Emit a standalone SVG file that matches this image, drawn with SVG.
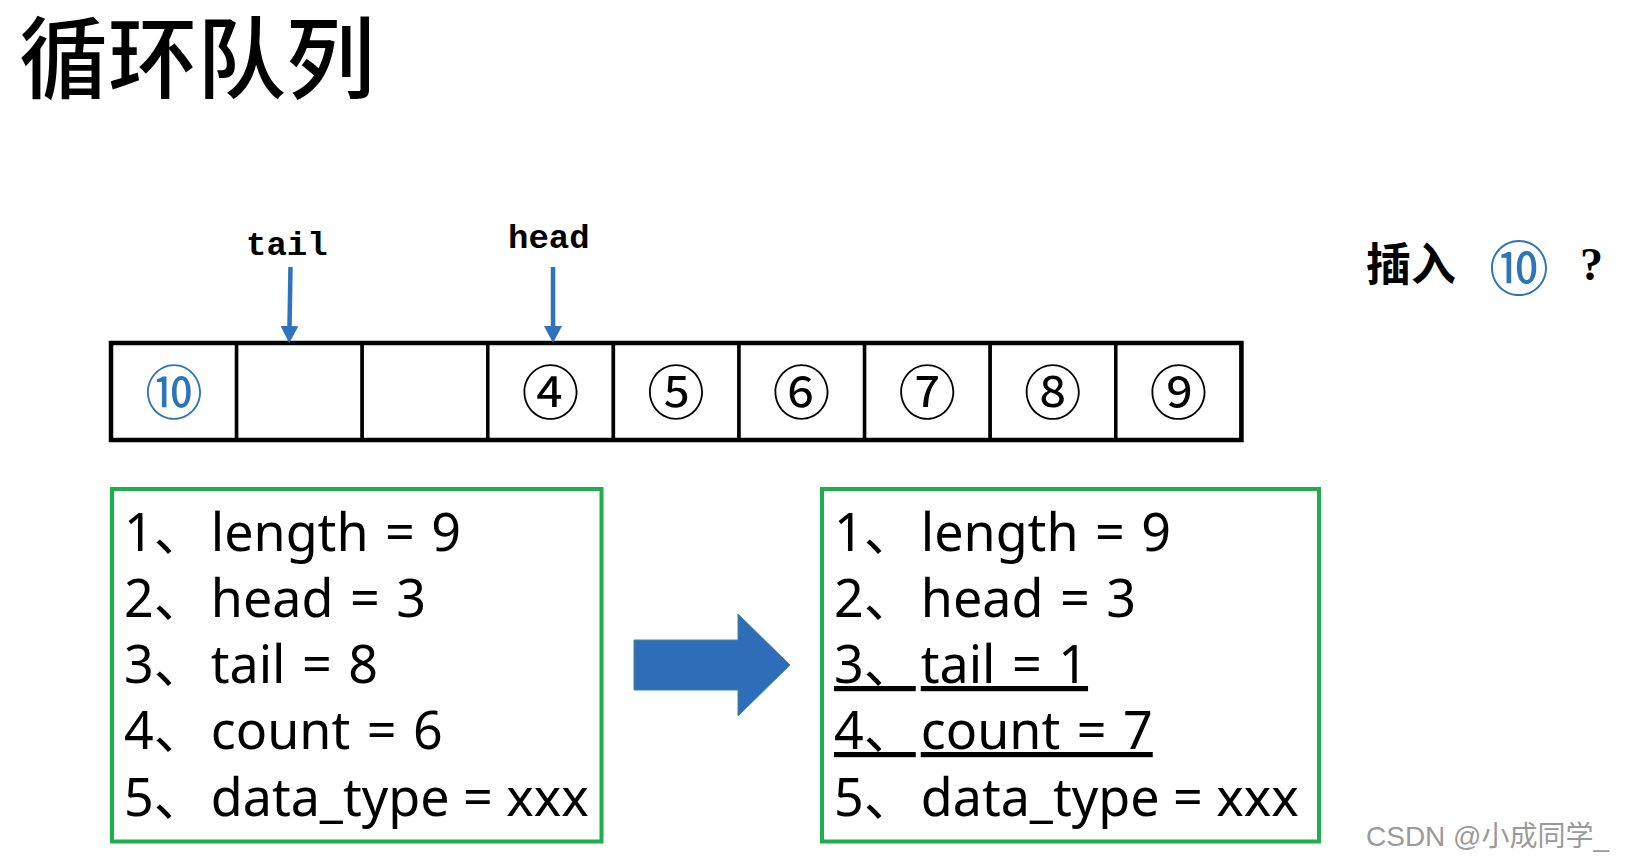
<svg xmlns="http://www.w3.org/2000/svg" width="1625" height="864" viewBox="0 0 1625 864">
  <style>
    .title { font-family: "Noto Sans CJK SC", "Noto Sans", sans-serif; font-size: 89px; font-weight: 500; fill: #000; }
    .ptr { font-family: "Liberation Mono", "DejaVu Sans Mono", monospace; font-size: 34px; font-weight: bold; fill: #000; }
    .cell { fill: #fff; stroke: #000; stroke-width: 3.5; }
    .circ { font-family: "Noto Sans CJK SC", "DejaVu Sans", sans-serif; font-size: 58px; text-anchor: middle; fill: #000; }
    .circ.blue { fill: #2e74b8; }
    .box { fill: #fff; stroke: #1fae4b; stroke-width: 4; }
    .item { font-family: "Noto Sans", "Noto Sans CJK SC", sans-serif; font-size: 52px; fill: #000; word-spacing: 3px; }
    .item.last { word-spacing: 0; }
    .ul { text-decoration: underline; }
    .pline { stroke: #2f72bd; stroke-width: 4.5; fill: none; }
    .ask { font-family: "Noto Sans CJK SC", sans-serif; font-size: 45px; font-weight: bold; fill: #000; }
    .q { font-family: "Liberation Serif", serif; font-size: 46px; font-weight: bold; fill: #000; }
    .wm { font-family: "Liberation Sans", "Noto Sans CJK SC", sans-serif; font-size: 28px; fill: #9a9a9a; }
  </style>
  <defs>
    <marker id="ah" markerUnits="userSpaceOnUse" markerWidth="18" markerHeight="18" viewBox="0 0 18 18" refX="1" refY="9" orient="auto">
      <path d="M0,0 L17,9 L0,18 z" fill="#2f72bd"/>
    </marker>
  </defs>

  <rect width="1625" height="864" fill="#fff"/>

  <g id="title">
    <text class="title" x="19" y="91">循环队列</text>
  </g>

  <g id="label-tail">
    <text class="ptr" x="246" y="255">tail</text>
  </g>
  <g id="label-head">
    <text class="ptr" x="508" y="248">head</text>
  </g>

  <g id="queue">
    <g id="cell-0">
      <rect class="cell" x="111" y="343" width="125.6" height="97"/>
      <text class="circ blue" x="174" y="414">⑩</text>
    </g>
    <g id="cell-1">
      <rect class="cell" x="236.6" y="343" width="125.6" height="97"/>
    </g>
    <g id="cell-2">
      <rect class="cell" x="362.2" y="343" width="125.6" height="97"/>
    </g>
    <g id="cell-3">
      <rect class="cell" x="487.8" y="343" width="125.6" height="97"/>
      <text class="circ" x="550.5" y="414">④</text>
    </g>
    <g id="cell-4">
      <rect class="cell" x="613.4" y="343" width="125.6" height="97"/>
      <text class="circ" x="676" y="414">⑤</text>
    </g>
    <g id="cell-5">
      <rect class="cell" x="739" y="343" width="125.6" height="97"/>
      <text class="circ" x="801.6" y="414">⑥</text>
    </g>
    <g id="cell-6">
      <rect class="cell" x="864.6" y="343" width="125.6" height="97"/>
      <text class="circ" x="927.2" y="414">⑦</text>
    </g>
    <g id="cell-7">
      <rect class="cell" x="990.2" y="343" width="125.6" height="97"/>
      <text class="circ" x="1052.8" y="414">⑧</text>
    </g>
    <g id="cell-8">
      <rect class="cell" x="1115.8" y="343" width="125.6" height="97"/>
      <text class="circ" x="1178.4" y="414">⑨</text>
    </g>
    <rect x="111" y="343" width="1130.4" height="97" fill="none" stroke="#000" stroke-width="4.5"/>
  </g>

  <g id="insert-question">
    <text class="ask" x="1366" y="281">插入</text>
    <text class="circ blue" x="1519" y="291" style="font-size:60px">⑩</text>
    <text class="q" x="1580" y="280">?</text>
  </g>

  <g id="state-before">
    <rect class="box" x="112" y="489" width="489.5" height="352.5"/>
    <text class="item" x="124" y="551">1、<tspan dx="5">length = 9</tspan></text>
    <text class="item" x="124" y="617">2、<tspan dx="5">head = 3</tspan></text>
    <text class="item" x="124" y="683">3、<tspan dx="5">tail = 8</tspan></text>
    <text class="item" x="124" y="749">4、<tspan dx="5">count = 6</tspan></text>
    <text class="item last" x="124" y="816">5、<tspan dx="5">data_type = xxx</tspan></text>
  </g>

  <g id="state-after">
    <rect class="box" x="822" y="489" width="497" height="352.5"/>
    <text class="item" x="834" y="551">1、<tspan dx="5">length = 9</tspan></text>
    <text class="item" x="834" y="617">2、<tspan dx="5">head = 3</tspan></text>
    <text class="item ul" x="834" y="683">3、<tspan dx="5">tail = 1</tspan></text>
    <text class="item ul" x="834" y="749">4、<tspan dx="5">count = 7</tspan></text>
    <text class="item last" x="834" y="816">5、<tspan dx="5">data_type = xxx</tspan></text>
  </g>

  <g id="connectors">
    <line class="pline" x1="290.5" y1="267" x2="289.5" y2="327" marker-end="url(#ah)"/>
    <line class="pline" x1="553" y1="267" x2="553" y2="327" marker-end="url(#ah)"/>
    <polygon points="634,640 738,640 738,614 790,665 738,716 738,690 634,690" fill="#2f6db8" stroke="#3a8a9a" stroke-width="1"/>
  </g>

  <g id="watermark">
    <text class="wm" x="1366" y="846">CSDN @小成同学_</text>
  </g>
</svg>
